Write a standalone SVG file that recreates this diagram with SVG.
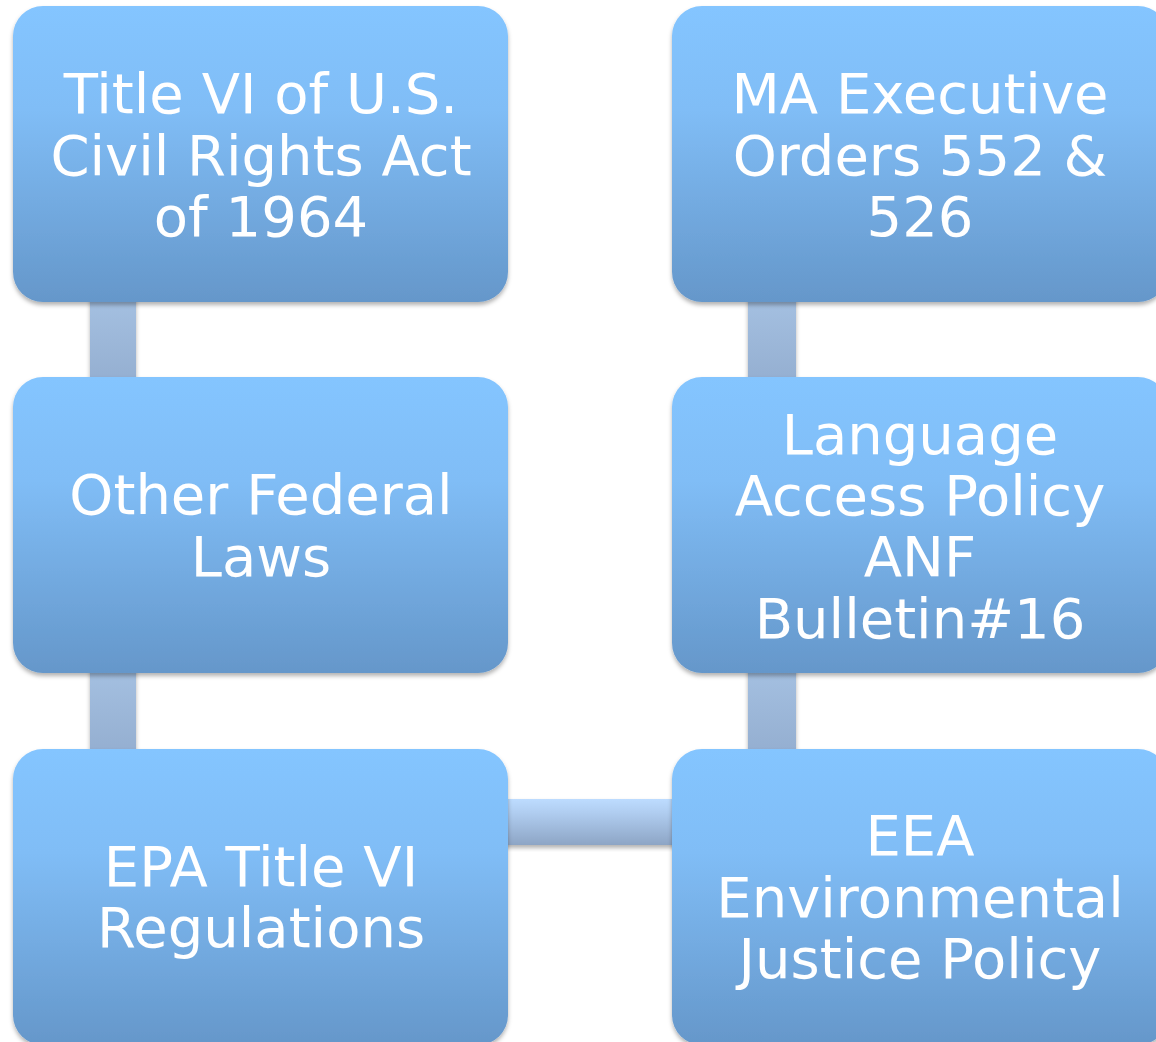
<svg xmlns="http://www.w3.org/2000/svg" width="1156" height="1042" viewBox="0 0 1156 1042">
<defs>
<linearGradient id="boxGrad" x1="0" y1="0" x2="0" y2="1">
<stop offset="0" stop-color="#84C5FF"/>
<stop offset="0.35" stop-color="#80BDF6"/>
<stop offset="1" stop-color="#6597CA"/>
</linearGradient>
<linearGradient id="vGrad" x1="0" y1="0" x2="0" y2="1">
<stop offset="0" stop-color="#A6C2E3"/>
<stop offset="1" stop-color="#93ADCF"/>
</linearGradient>
<linearGradient id="hGrad" x1="0" y1="0" x2="0" y2="1">
<stop offset="0" stop-color="#BDDCFF"/>
<stop offset="0.3" stop-color="#B0CDF0"/>
<stop offset="1" stop-color="#8DA5C5"/>
</linearGradient>
<filter id="shadow" x="-10%" y="-10%" width="120%" height="125%">
<feDropShadow dx="0" dy="3" stdDeviation="2.2" flood-color="#000" flood-opacity="0.3"/>
</filter>
</defs>
<style>
.box { fill: url(#boxGrad); filter: url(#shadow); }
.vconn { fill: url(#vGrad); filter: url(#shadow); }
.hconn { fill: url(#hGrad); filter: url(#shadow); }
.lbl { font-family: "DejaVu Sans", Verdana, sans-serif; font-size: 56px; fill: #FFFFFF; text-anchor: middle; }
</style>
<rect width="1156" height="1042" fill="#FFFFFF"/>
<g id="connectors">
<rect class="vconn" x="90" y="290" width="46" height="100"/>
<rect class="vconn" x="90" y="660" width="46" height="100"/>
<rect class="vconn" x="748" y="290" width="48" height="100"/>
<rect class="vconn" x="748" y="660" width="48" height="100"/>
<rect class="hconn" x="495" y="799" width="190" height="46"/>
</g>
<g id="node-title-vi">
<rect class="box" x="13" y="6" width="495" height="296" rx="30"/>
<text class="lbl" x="261" y="113">Title VI of U.S.</text>
<text class="lbl" x="261" y="175">Civil Rights Act</text>
<text class="lbl" x="261" y="236">of 1964</text>
</g>
<g id="node-other-federal">
<rect class="box" x="13" y="377" width="495" height="296" rx="30"/>
<text class="lbl" x="261" y="514">Other Federal</text>
<text class="lbl" x="261" y="576">Laws</text>
</g>
<g id="node-epa">
<rect class="box" x="13" y="749" width="495" height="296" rx="30"/>
<text class="lbl" x="261" y="886">EPA Title VI</text>
<text class="lbl" x="261" y="947">Regulations</text>
</g>
<g id="node-ma-exec">
<rect class="box" x="672" y="6" width="496" height="296" rx="30"/>
<text class="lbl" x="920" y="113">MA Executive</text>
<text class="lbl" x="920" y="175">Orders 552 &amp;</text>
<text class="lbl" x="920" y="236">526</text>
</g>
<g id="node-language-access">
<rect class="box" x="672" y="377" width="496" height="296" rx="30"/>
<text class="lbl" x="920" y="454">Language</text>
<text class="lbl" x="920" y="515">Access Policy</text>
<text class="lbl" x="920" y="576">ANF</text>
<text class="lbl" x="920" y="638">Bulletin#16</text>
</g>
<g id="node-eea">
<rect class="box" x="672" y="749" width="496" height="296" rx="30"/>
<text class="lbl" x="920" y="855">EEA</text>
<text class="lbl" x="920" y="917">Environmental</text>
<text class="lbl" x="920" y="978">Justice Policy</text>
</g>
</svg>
